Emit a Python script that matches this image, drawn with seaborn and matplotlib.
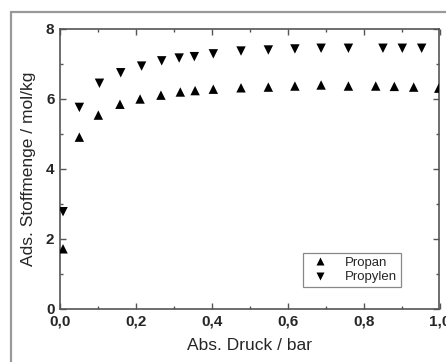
import matplotlib
matplotlib.use("Agg")
import matplotlib.pyplot as plt
import seaborn as sns
import pandas as pd
from matplotlib.patches import Rectangle
from matplotlib.ticker import MultipleLocator

propan_x = [0.008, 0.051, 0.101, 0.158, 0.211, 0.266, 0.317, 0.356, 0.404, 0.477,
            0.549, 0.619, 0.688, 0.760, 0.832, 0.881, 0.932, 0.998]
propan_y = [1.72, 4.91, 5.54, 5.85, 6.00, 6.11, 6.20, 6.24, 6.28, 6.32,
            6.34, 6.37, 6.40, 6.37, 6.37, 6.36, 6.34, 6.31]
propylen_x = [0.008, 0.051, 0.104, 0.160, 0.215, 0.268, 0.314, 0.354, 0.404, 0.477,
              0.549, 0.619, 0.688, 0.760, 0.851, 0.902, 0.953]
propylen_y = [2.78, 5.76, 6.45, 6.75, 6.94, 7.09, 7.17, 7.21, 7.29, 7.37,
              7.40, 7.43, 7.45, 7.45, 7.45, 7.45, 7.45]
series_names = ["Propan", "Propylen"]

df = pd.concat([
    pd.DataFrame({"x": propan_x, "y": propan_y, "Gas": series_names[0]}),
    pd.DataFrame({"x": propylen_x, "y": propylen_y, "Gas": series_names[1]}),
])

sns.set_style("ticks")
plt.rcParams["font.family"] = ["Liberation Sans", "DejaVu Sans"]

fig = plt.figure(figsize=(4.46, 3.62), dpi=100)
ax = fig.add_axes([60/446, 1-309/362, 379.5/446, 280/362])

sns.scatterplot(data=df, x="x", y="y", style="Gas", hue="Gas",
                palette={"Propan": "black", "Propylen": "black"},
                markers={"Propan": "^", "Propylen": "v"},
                s=46, edgecolor="none", ax=ax, zorder=3)

ax.set_xlim(0, 1.0)
ax.set_ylim(0, 8)
ax.xaxis.set_major_locator(MultipleLocator(0.2))
ax.xaxis.set_minor_locator(MultipleLocator(0.1))
ax.yaxis.set_major_locator(MultipleLocator(2))
ax.yaxis.set_minor_locator(MultipleLocator(1))
ax.set_xticklabels([f"{v:.1f}".replace(".", ",") for v in ax.get_xticks()])
ax.set_yticklabels([f"{int(v)}" for v in ax.get_yticks()])

spine_col = "#555555"
for sp in ax.spines.values():
    sp.set_visible(True)
    sp.set_color(spine_col)
    sp.set_linewidth(1.2)
ax.tick_params(which="both", direction="in", top=True, right=True,
               color=spine_col, width=1.0, labelsize=11)
ax.tick_params(axis="x", which="major", pad=4)
ax.tick_params(axis="y", which="major", pad=4)
ax.tick_params(which="major", length=4)
ax.tick_params(which="minor", length=2.5)
for lab in ax.get_xticklabels() + ax.get_yticklabels():
    lab.set_fontweight("bold")

ax.set_xlabel("Abs. Druck / bar", fontsize=12.5)
ax.set_ylabel("Ads. Stoffmenge / mol/kg", fontsize=12.5)
ax.xaxis.set_label_coords(0.5, -0.105)
ax.yaxis.set_label_coords(-0.062, 0.5)

leg = ax.legend(loc="upper right", bbox_to_anchor=(0.899, 0.201), borderaxespad=0,
                fontsize=9.5, frameon=True, fancybox=False, framealpha=1,
                edgecolor="#888888", handletextpad=0.9, borderpad=0.3,
                labelspacing=0.15, markerscale=0.85, title=None)
leg.get_frame().set_linewidth(0.9)

fig.patches.append(Rectangle((11/446, -0.2), 1.2, 0.2 + 1 - 12/362,
                             transform=fig.transFigure, fill=False,
                             edgecolor="#999999", linewidth=1.6, zorder=0))

fig.savefig("out.png", dpi=100)
